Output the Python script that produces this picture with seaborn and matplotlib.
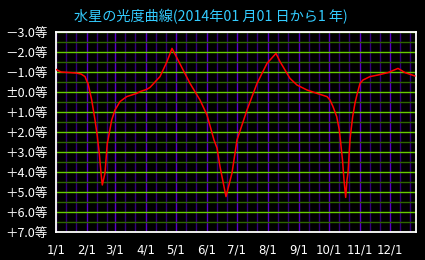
import matplotlib
matplotlib.use("Agg")
import matplotlib.pyplot as plt
import seaborn as sns
import pandas as pd

sns.set_style("dark")
plt.rcParams['font.family'] = ['Noto Sans CJK JP', 'DejaVu Sans']

title = "水星の光度曲線(2014年01 月01 日から1 年)"

# day of year (0 = Jan 1) and magnitude
days = [0, 5, 11, 20, 25, 29, 31, 32, 35.7, 39, 41.3, 41.7, 43.3, 45, 46.3, 49, 51.3, 52,
        55.7, 59, 64, 70.7, 80.7, 84, 90.7, 94, 104, 111, 116, 122, 134, 144, 151, 158,
        161, 164, 170, 176, 181, 191, 201, 211, 220, 224, 227, 231, 234, 241, 251, 261,
        271, 274, 277, 280.7, 283.3, 286.5, 288, 289.7, 291, 292, 294, 294.7, 296.7, 299,
        301.3, 304, 307, 314, 322, 332, 342, 349, 359]
mags = [-1.13, -1.0, -0.98, -0.95, -0.9, -0.77, -0.52, -0.43, 0.4, 1.4, 2.2, 2.4, 3.07, 4.05, 4.65, 4.05, 2.55, 2.4,
        1.4, 0.9, 0.48, 0.23, 0.07, -0.02, -0.13, -0.23, -0.77, -1.52, -2.18, -1.6, -0.43, 0.4, 1.15, 2.4,
        2.8, 3.73, 5.23, 4.05, 2.4, 0.9, -0.43, -1.43, -1.93, -1.52, -1.27, -0.93, -0.68, -0.35, -0.1, 0.07,
        0.23, 0.4, 0.73, 1.23, 1.9, 3.4, 4.4, 5.27, 4.4, 4.05, 2.4, 2.05, 1.23, 0.55,
        0.07, -0.43, -0.6, -0.77, -0.85, -0.97, -1.18, -0.97, -0.8]

month_starts = [0, 31, 59, 90, 120, 151, 181, 212, 243, 273, 304, 334]
month_labels = ["1/1", "2/1", "3/1", "4/1", "5/1", "6/1", "7/1", "8/1", "9/1", "10/1", "11/1", "12/1"]
ytick_vals = [-3, -2, -1, 0, 1, 2, 3, 4, 5, 6, 7]
ytick_labels = ["－3.0等", "－2.0等", "－1.0等", "±0.0等", "＋1.0等", "＋2.0等", "＋3.0等",
                "＋4.0等", "＋5.0等", "＋6.0等", "＋7.0等"]

df = pd.DataFrame({"day": days, "mag": mags})

fig = plt.figure(figsize=(4.25, 2.6), dpi=100, facecolor="black")
ax = fig.add_axes([56/425, 1-232/260, 360/425, 200/260])
ax.set_facecolor("black")

# grid
for m in month_starts:
    for d in (m + 10, m + 20):
        if d < 360:
            ax.axvline(d, color="#33007a", lw=1.0, zorder=1)
for m in month_starts:
    ax.axvline(m, color="#5a00c8", lw=1.0, zorder=1)
for v in range(-6, 15):
    y = v / 2
    if v % 2 == 0:
        ax.axhline(y, color="#66cc00", lw=1.0, zorder=2)
    else:
        ax.axhline(y, color="#2d6600", lw=1.0, zorder=2)

sns.lineplot(data=df, x="day", y="mag", color="#ff0000", lw=1.1, ax=ax, zorder=3)

ax.set_xlim(0, 360)
ax.set_ylim(7, -3)
ax.set_xticks(month_starts)
ax.set_xticklabels(month_labels, color="white", fontsize=8.5, family=['DejaVu Sans'])
ax.set_yticks(ytick_vals)
ax.set_yticklabels(ytick_labels, color="white", fontsize=9)
ax.tick_params(axis="y", length=0, pad=6)
ax.tick_params(axis="x", length=0, pad=8)
ax.set_xlabel("")
ax.set_ylabel("")
ax.grid(False)
for s in ax.spines.values():
    s.set_visible(True)
    s.set_color("white")
    s.set_linewidth(1.3)

fig.text(211/425, 1-17/260, title, color="#33ccff", fontsize=10.2, ha="center", va="center")

fig.savefig("out.png", dpi=100, facecolor="black")
